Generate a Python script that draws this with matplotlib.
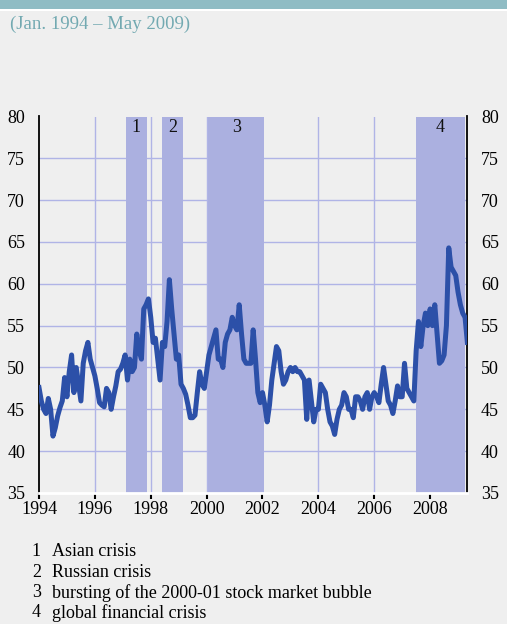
import numpy as np
import matplotlib
matplotlib.use('Agg')
import matplotlib.pyplot as plt

# 月度数据 Jan.1994 - May 2009
values = [
    47.6, 46.0, 45.0, 44.5, 46.3, 45.0, 41.8, 42.8, 44.2, 45.2, 46.0, 48.8,   # 1994
    46.5, 49.5, 51.5, 47.0, 50.0, 48.0, 46.0, 50.5, 52.0, 53.0, 51.0, 50.0,   # 1995
    49.0, 47.5, 45.8, 45.5, 45.3, 47.5, 47.0, 45.0, 46.5, 47.8, 49.5, 49.8,   # 1996
    50.5, 51.5, 48.5, 51.0, 49.5, 50.0, 54.0, 52.0, 51.0, 57.0, 57.5, 58.2,   # 1997
    56.0, 53.0, 53.5, 51.0, 48.5, 53.0, 52.5, 55.5, 60.5, 57.0, 54.0, 51.0,   # 1998
    51.5, 48.0, 47.5, 46.8, 45.5, 44.0, 44.0, 44.3, 47.0, 49.5, 48.0, 47.5,   # 1999
    49.5, 51.5, 52.5, 53.5, 54.5, 51.0, 51.0, 50.0, 53.0, 54.0, 54.5, 56.0,   # 2000
    55.0, 54.5, 57.5, 54.0, 51.0, 50.5, 50.5, 50.5, 54.5, 51.0, 47.0, 45.8,   # 2001
    47.0, 45.5, 43.5, 45.5, 48.5, 50.5, 52.5, 52.0, 49.5, 48.0, 48.5, 49.5,   # 2002
    50.0, 49.5, 50.0, 49.5, 49.5, 49.0, 48.5, 43.8, 48.5, 46.0, 43.5, 45.0,   # 2003
    45.0, 48.0, 47.5, 47.0, 45.0, 43.5, 43.0, 42.0, 43.8, 45.0, 45.5, 47.0,   # 2004
    46.5, 45.0, 45.0, 44.0, 46.5, 46.5, 46.0, 45.0, 46.5, 47.0, 45.0, 46.5,   # 2005
    47.0, 46.5, 45.8, 48.0, 50.0, 48.0, 46.0, 45.5, 44.5, 46.0, 47.8, 46.5,   # 2006
    46.5, 50.5, 47.5, 47.0, 46.5, 46.0, 52.0, 55.5, 52.5, 55.0, 56.5, 55.0,   # 2007
    57.0, 55.0, 57.5, 54.0, 50.5, 50.8, 51.5, 55.0, 64.3, 62.0, 61.5, 61.0,   # 2008
    59.0, 57.5, 56.5, 56.0, 53.0,                                             # 2009
]
start_year = 1994

# 危机区间
crisis_start = [1997.1, 1998.4, 2000.05, 2007.49]
crisis_end = [1997.85, 1999.15, 2002.07, 2009.24]
crisis_labels = ['1', '2', '3', '4']
crisis_notes = ['Asian crisis', 'Russian crisis',
                'bursting of the 2000-01 stock market bubble',
                'global financial crisis']

x_ticks = [1994, 1996, 1998, 2000, 2002, 2004, 2006, 2008]
y_ticks = [35, 40, 45, 50, 55, 60, 65, 70, 75, 80]

plt.rcParams['font.family'] = ['Liberation Serif', 'DejaVu Serif']

bg = '#efefef'
fig = plt.figure(figsize=(5.07, 6.24), dpi=100, facecolor=bg)

# 顶部色条
fig.patches.append(plt.Rectangle((0, 1 - 9 / 624), 1, 9 / 624, transform=fig.transFigure,
                                 facecolor='#8fbcc4', edgecolor='none'))
fig.patches.append(plt.Rectangle((0, 1 - 11 / 624), 1, 2 / 624, transform=fig.transFigure,
                                 facecolor='white', edgecolor='none'))
fig.text(10 / 507, 1 - 24 / 624, '(Jan. 1994 \u2013 May 2009)', fontsize=13.5,
         color='#72a9b1', va='center', ha='left')

ax = fig.add_axes([39 / 507, 131 / 624, 428 / 507, 376.5 / 624])
ax.set_facecolor(bg)

x = start_year + np.arange(len(values)) / 12.0
grid_c = '#b0b4e6'
for yv in y_ticks[1:-1]:
    ax.axhline(yv, color=grid_c, lw=1, zorder=1)
for xv in x_ticks[1:]:
    ax.axvline(xv, color=grid_c, lw=1, zorder=1)

for s, e, lab in zip(crisis_start, crisis_end, crisis_labels):
    ax.axvspan(s, e, color='#abb0e0', lw=0, zorder=2)
    ax.text((s + e) / 2, 78.7, lab, ha='center', va='center', fontsize=13, color='#111111', zorder=4)

ax.plot(x, values, color='#2c50a8', lw=3.6, zorder=3, solid_joinstyle='round')

ax.set_xlim(1994, 2009.32)
ax.set_ylim(35, 80)
ax.set_xticks(x_ticks)
ax.set_yticks(y_ticks)
ax.tick_params(axis='y', length=0, labelsize=13, pad=10, right=True, labelright=True)
ax.tick_params(axis='x', length=4, width=1.5, labelsize=13, pad=2, color='black')

for side in ['left', 'right']:
    ax.spines[side].set_color('black')
    ax.spines[side].set_linewidth(1.3)
ax.spines['top'].set_visible(False)
ax.spines['bottom'].set_color('white')
ax.spines['bottom'].set_linewidth(2)

# 注释
for i, (lab, note) in enumerate(zip(crisis_labels, crisis_notes)):
    yy = 1 - (552 + i * 20.3) / 624
    fig.text(41 / 507, yy, lab, ha='right', va='center', fontsize=13)
    fig.text(52 / 507, yy, note, ha='left', va='center', fontsize=13)

fig.savefig('out.png', dpi=100, facecolor=bg)
